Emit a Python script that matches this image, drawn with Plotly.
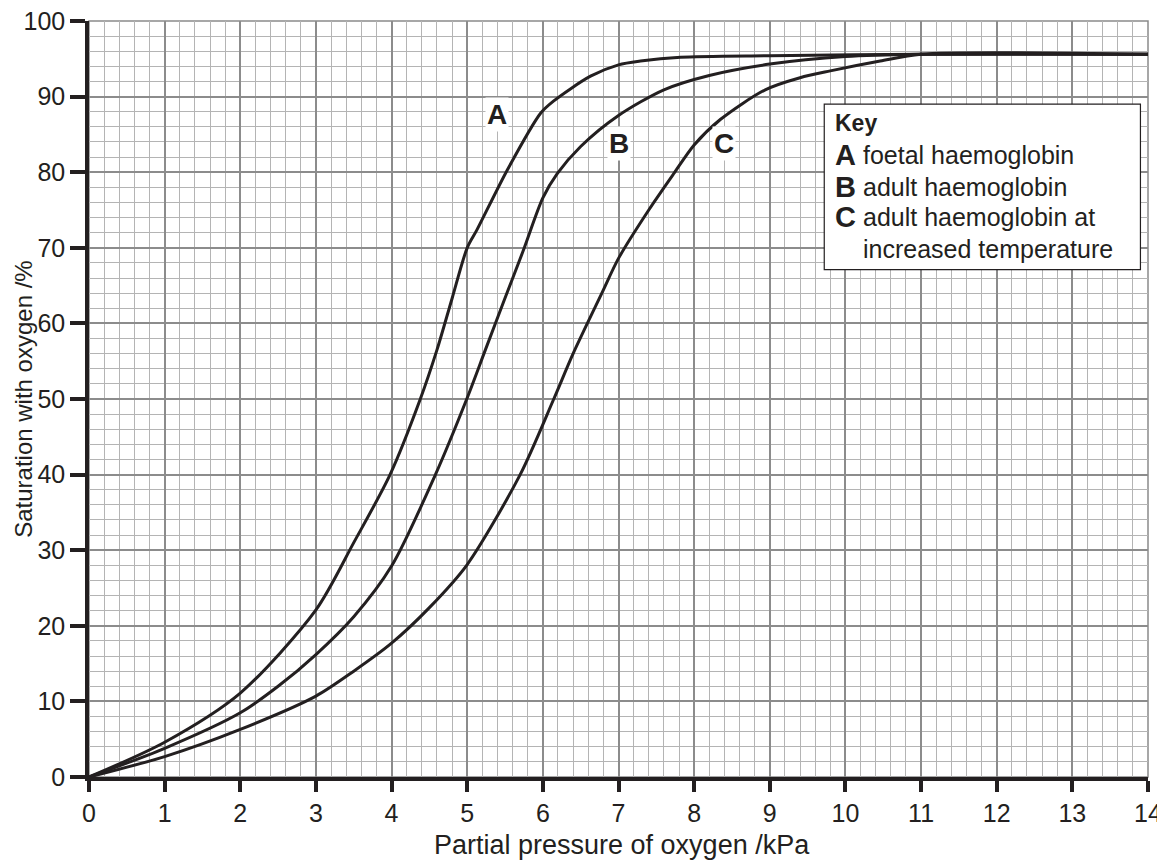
import plotly.graph_objects as go

# Curve A: foetal haemoglobin
a_x = [0, 1, 2, 3, 3.5, 3.98, 4.38, 4.6, 4.8, 5.0, 5.13, 5.53, 5.97, 6.14, 6.63, 7.0, 7.29, 7.82, 9, 11, 14]
a_y = [0, 4.6, 11.1, 22.1, 31, 40, 50, 56.5, 63.3, 70, 72.4, 80.3, 87.8, 89.4, 92.7, 94.2, 94.7, 95.2, 95.4, 95.6, 95.6]

# Curve B: adult haemoglobin
b_x = [0, 1, 2, 2.5, 3, 3.5, 4, 4.58, 4.99, 5.24, 5.49, 5.74, 6, 6.19, 6.5, 7, 7.6, 8.2, 9, 10, 11, 14]
b_y = [0, 3.8, 8.5, 12, 16.2, 21.2, 27.9, 40, 49.9, 56.5, 63.1, 69.6, 76.6, 79.8, 83.4, 87.5, 90.9, 92.8, 94.3, 95.3, 95.6, 95.6]

# Curve C: adult haemoglobin at increased temperature
c_x = [0, 1, 2, 3, 3.5, 4, 4.5, 5, 5.7, 6.14, 6.4, 6.78, 7, 7.4, 7.73, 8, 8.35, 8.94, 9.4, 9.8, 10.46, 11, 14]
c_y = [0, 2.7, 6.3, 10.7, 14, 17.7, 22.4, 28.1, 40, 49.9, 56.0, 64.0, 68.6, 75, 79.8, 83.6, 87.0, 90.9, 92.5, 93.4, 94.7, 95.6, 95.6]

curve_labels = ["A", "B", "C"]
label_x = [5.4, 7.0, 8.4]
label_y = [87.6, 83.8, 83.8]

x_ticks = list(range(0, 15))
y_ticks = list(range(0, 101, 10))

key_letters = ["A", "B", "C", ""]
key_texts = ["foetal haemoglobin", "adult haemoglobin", "adult haemoglobin at", "increased temperature"]
key_rows_y = [82.3, 78.0, 74.1, 69.9]

INK = "#231f20"
FONT = "Liberation Sans, Arial, sans-serif"

fig = go.Figure()
for xs, ys in [(a_x, a_y), (b_x, b_y), (c_x, c_y)]:
    fig.add_trace(go.Scatter(x=xs, y=ys, mode="lines",
                             line=dict(color=INK, width=3, shape="spline", smoothing=0.8),
                             showlegend=False, hoverinfo="skip"))

for lab, lx, ly in zip(curve_labels, label_x, label_y):
    fig.add_annotation(x=lx, y=ly, text="<b>%s</b>" % lab, showarrow=False,
                       font=dict(size=28, color=INK, family=FONT), bgcolor="white")

# Key box
fig.add_shape(type="rect", xref="x", yref="y", x0=9.72, x1=13.9, y0=67.1, y1=89.0,
              line=dict(color=INK, width=1.2), fillcolor="white", layer="above")
fig.add_annotation(x=9.84, y=86.5, xanchor="left", yanchor="middle", text="<b>Key</b>",
                   showarrow=False, font=dict(size=23, color=INK, family=FONT))
for letter, txt, yy in zip(key_letters, key_texts, key_rows_y):
    if letter:
        fig.add_annotation(x=9.83, y=yy, xanchor="left", yanchor="middle",
                           text="<b>%s</b>" % letter, showarrow=False,
                           font=dict(size=29, color=INK, family=FONT))
    fig.add_annotation(x=10.2, y=yy, xanchor="left", yanchor="middle", text=txt,
                       showarrow=False, font=dict(size=25, color=INK, family=FONT))

# axis titles
fig.add_annotation(xref="paper", yref="paper", x=0.503, y=-0.09, text="Partial pressure of oxygen /kPa",
                   showarrow=False, xanchor="center", yanchor="middle",
                   font=dict(size=27, color=INK, family=FONT))
fig.add_annotation(xref="paper", yref="paper", x=-0.0625, y=0.5, text="Saturation with oxygen /%",
                   showarrow=False, textangle=-90, xanchor="center", yanchor="middle",
                   font=dict(size=24, color=INK, family=FONT))

# frame (top/right)
fig.add_shape(type="rect", xref="paper", yref="paper", x0=0, x1=1, y0=0, y1=1,
              line=dict(color="#8a8a8a", width=1.5), layer="below")

axis_common = dict(
    showline=True, linecolor=INK, linewidth=3.5,
    ticks="outside", tickwidth=3.5, tickcolor=INK,
    showgrid=True, gridcolor="#8c8c8c", gridwidth=1.5,
    tickfont=dict(size=25, color=INK, family=FONT),
    zeroline=False, automargin=False, ticklabeloverflow="allow",
)

fig.update_xaxes(range=[0, 14], tickvals=x_ticks, ticktext=[str(v) for v in x_ticks], ticklen=11,
                 minor=dict(dtick=0.2, showgrid=True, gridcolor="#b4b4b4", gridwidth=1),
                 **axis_common)
fig.update_yaxes(range=[0, 100], tickvals=y_ticks, ticktext=[str(v) for v in y_ticks], ticklen=15,
                 minor=dict(dtick=2, showgrid=True, gridcolor="#b4b4b4", gridwidth=1),
                 **axis_common)

# page body has an 8px default margin, so the figure is offset by 8px
fig.update_layout(width=1157, height=857, paper_bgcolor="white", plot_bgcolor="white",
                  margin=dict(l=81, r=17, t=13, b=88), showlegend=False)

fig.write_html("out.html")
